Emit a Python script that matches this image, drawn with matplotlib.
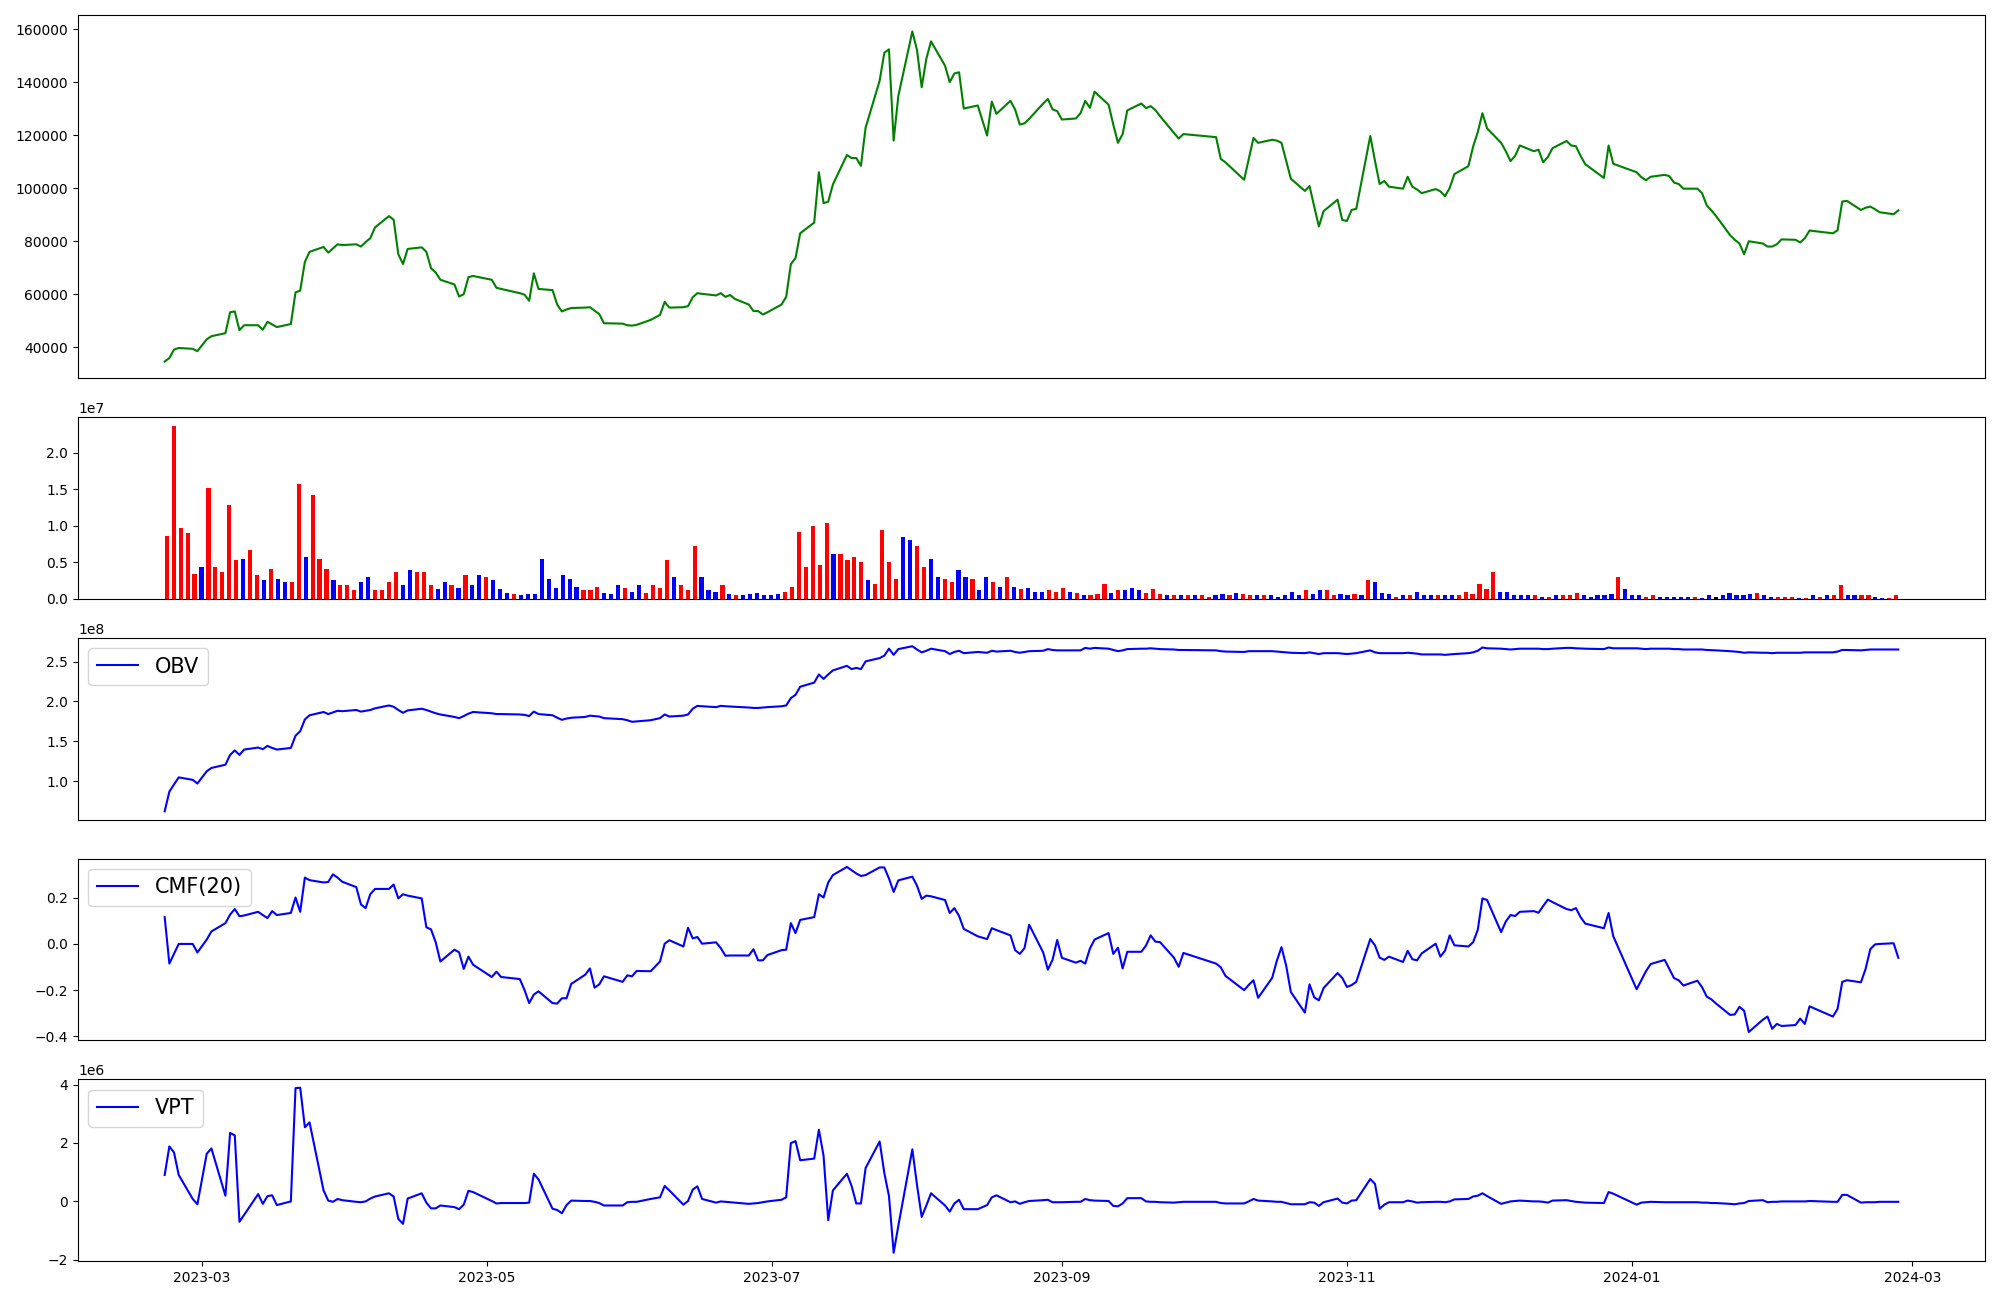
import numpy as np
import pandas as pd
import matplotlib
matplotlib.use("Agg")
import matplotlib.pyplot as plt

# KRX trading days, 2023-02-21 .. 2024-02-27
holidays = ["2023-03-01", "2023-05-01", "2023-05-05", "2023-05-29", "2023-06-06",
            "2023-08-15", "2023-09-28", "2023-09-29", "2023-10-02", "2023-10-03",
            "2023-10-09", "2023-12-25", "2023-12-29", "2024-01-01", "2024-02-09",
            "2024-02-12"]
dates = pd.bdate_range("2023-02-21", "2024-02-27", freq="C", holidays=holidays).to_pydatetime()

close = [
    34600, 35900, 39100, 39700, 39400, 38500, 43000, 44150, 45300, 53200,
    53500, 46450, 48300, 48300, 46600, 49600, 48600, 47600, 48750, 60700,
    61400, 72200, 76000, 77850, 75700, 77300, 78850, 78550, 78850, 78000,
    79700, 81150, 85200, 89500, 88100, 75100, 71400, 77100, 77700, 76000,
    69800, 68200, 65450, 63700, 59150, 60000, 66450, 66900, 65450, 62450,
    62000, 60400, 59850, 57550, 67900, 62000, 61550, 56100, 53500, 54250,
    54800, 54950, 55100, 53800, 52500, 49050, 48900, 48300, 48150, 48450,
    50300, 52200, 57100, 54950, 55100, 55500, 58850, 60400, 60150, 59550,
    60400, 59000, 59700, 58250, 56100, 53650, 53650, 52350, 53200, 56100,
    59000, 71350, 73650, 83000, 87050, 106050, 94400, 94950, 101450, 112550,
    111400, 111400, 108500, 122900, 140600, 151150, 152450, 118000, 134850, 159200,
    152150, 138150, 148950, 155450, 146250, 140050, 143350, 143800, 130100, 131250,
    119900, 132700, 128100, 133000, 129700, 124050, 124500, 126200, 132000, 133700,
    129800, 129100, 125950, 126350, 128400, 133000, 130400, 136450, 131550, 124050,
    117150, 120450, 129400, 132000, 130250, 131000, 129550, 127250, 120900, 118750,
    120450, 119300, 111100, 109800, 103200, 111100, 119000, 117150, 118300, 118000,
    117150, 110400, 103600, 99000, 100850, 93100, 85600, 91350, 95700, 88050,
    87650, 91800, 92250, 119750, 110400, 101600, 102750, 100600, 99850, 104350,
    100600, 99550, 98150, 99700, 98850, 97000, 100150, 105350, 108350, 115700,
    121150, 128350, 122600, 117150, 114000, 110250, 112250, 116150, 114000, 114550,
    109800, 111800, 115150, 117850, 116150, 115850, 112250, 109100, 103900, 116150,
    109250, 106050, 104200, 103050, 104350, 105050, 104600, 102150, 101600, 99850,
    99850, 98150, 93550, 91650, 89500, 82300, 80550, 79150, 75100, 80000,
    79150, 78000, 78000, 78850, 80700, 80550, 79550, 81150, 84050, 83000,
    84150, 95000, 95250, 91800, 92650, 93100, 92100, 90950, 90200, 91650,
]

# volume in units of 1e7
volume = [
    0.858, 2.370, 0.969, 0.900, 0.345, 0.440, 1.515, 0.430, 0.372, 1.283,
    0.525, 0.551, 0.662, 0.319, 0.251, 0.414, 0.277, 0.235, 0.235, 1.573,
    0.567, 1.420, 0.551, 0.404, 0.251, 0.193, 0.182, 0.114, 0.235, 0.293,
    0.124, 0.124, 0.224, 0.361, 0.193, 0.388, 0.372, 0.361, 0.193, 0.140,
    0.235, 0.182, 0.151, 0.330, 0.193, 0.319, 0.293, 0.251, 0.140, 0.082,
    0.072, 0.056, 0.072, 0.072, 0.551, 0.277, 0.151, 0.319, 0.277, 0.166,
    0.114, 0.124, 0.166, 0.082, 0.072, 0.193, 0.151, 0.098, 0.193, 0.082,
    0.193, 0.151, 0.525, 0.293, 0.182, 0.124, 0.730, 0.293, 0.114, 0.098,
    0.182, 0.072, 0.056, 0.056, 0.072, 0.082, 0.056, 0.056, 0.072, 0.098,
    0.166, 0.909, 0.440, 0.993, 0.456, 1.035, 0.620, 0.609, 0.525, 0.567,
    0.509, 0.261, 0.209, 0.936, 0.498, 0.277, 0.841, 0.799, 0.720, 0.440,
    0.541, 0.303, 0.277, 0.224, 0.388, 0.303, 0.277, 0.124, 0.293, 0.224,
    0.166, 0.293, 0.166, 0.140, 0.151, 0.098, 0.098, 0.114, 0.098, 0.151,
    0.098, 0.082, 0.056, 0.056, 0.072, 0.209, 0.082, 0.114, 0.124, 0.151,
    0.114, 0.082, 0.140, 0.072, 0.045, 0.045, 0.056, 0.045, 0.056, 0.045,
    0.030, 0.045, 0.072, 0.045, 0.082, 0.072, 0.056, 0.045, 0.056, 0.045,
    0.030, 0.045, 0.098, 0.056, 0.114, 0.072, 0.114, 0.124, 0.056, 0.072,
    0.056, 0.072, 0.056, 0.261, 0.235, 0.082, 0.072, 0.030, 0.045, 0.056,
    0.098, 0.045, 0.056, 0.045, 0.056, 0.045, 0.056, 0.098, 0.072, 0.209,
    0.140, 0.372, 0.098, 0.098, 0.056, 0.045, 0.045, 0.045, 0.030, 0.030,
    0.045, 0.045, 0.056, 0.082, 0.045, 0.030, 0.045, 0.045, 0.072, 0.303,
    0.140, 0.056, 0.056, 0.030, 0.056, 0.030, 0.030, 0.030, 0.030, 0.030,
    0.030, 0.014, 0.045, 0.030, 0.045, 0.082, 0.056, 0.056, 0.072, 0.082,
    0.045, 0.030, 0.030, 0.030, 0.030, 0.014, 0.014, 0.056, 0.030, 0.045,
    0.045, 0.182, 0.056, 0.045, 0.045, 0.045, 0.030, 0.014, 0.014, 0.045,
]

# r = close above open, b = below, k = unchanged
bar_side = list(
    "rrrrrbrrrr" "rbrrbrbbrr" "brrrbrrrbb" "rrrrbbrrrb" "brbrbbrbbb"
    "rbbbbbbbbb" "rrrbbbrbbr" "rrrbrrrbbb" "rbrbbbbbbr" "rrrrrrbrrr"
    "rbrrrrbbrr" "bbrrbbrbbr" "brbrbbbrrr" "brbrrrbrbb" "brrrbrbrbr"
    "rbbrbrrbrb" "bbbbrbbrrb" "brbrbbbrbr" "bbbrbbrrrr" "rrbbbbbrbr"
    "brrrbbbbbr" "bbbrrbbbbb" "rbbkbbbbbr" "bbrrrbrbrb" "rrbbrrbbrr"
)

# OBV in units of 1e8
obv = [
    0.623, 0.869, 0.960, 1.048, 1.017, 0.971, 1.125, 1.166, 1.207, 1.330,
    1.386, 1.330, 1.397, 1.422, 1.402, 1.443, 1.417, 1.397, 1.417, 1.571,
    1.627, 1.775, 1.827, 1.868, 1.842, 1.862, 1.883, 1.878, 1.893, 1.873,
    1.883, 1.893, 1.914, 1.950, 1.934, 1.893, 1.858, 1.888, 1.909, 1.893,
    1.873, 1.852, 1.837, 1.806, 1.791, 1.817, 1.847, 1.868, 1.852, 1.842,
    1.842, 1.837, 1.832, 1.817, 1.873, 1.842, 1.827, 1.796, 1.770, 1.786,
    1.796, 1.806, 1.822, 1.817, 1.811, 1.791, 1.778, 1.765, 1.745, 1.750,
    1.765, 1.791, 1.837, 1.811, 1.822, 1.837, 1.909, 1.945, 1.940, 1.929,
    1.945, 1.940, 1.937, 1.934, 1.924, 1.919, 1.919, 1.924, 1.929, 1.940,
    1.950, 2.042, 2.083, 2.185, 2.237, 2.339, 2.283, 2.339, 2.390, 2.447,
    2.406, 2.421, 2.406, 2.503, 2.544, 2.575, 2.662, 2.585, 2.657, 2.693,
    2.652, 2.616, 2.636, 2.662, 2.631, 2.595, 2.621, 2.636, 2.606, 2.621,
    2.611, 2.636, 2.626, 2.636, 2.621, 2.611, 2.621, 2.631, 2.636, 2.657,
    2.646, 2.641, 2.641, 2.641, 2.641, 2.672, 2.662, 2.672, 2.662, 2.646,
    2.631, 2.641, 2.657, 2.662, 2.662, 2.667, 2.662, 2.657, 2.652, 2.646,
    2.646, 2.641, 2.631, 2.626, 2.621, 2.631, 2.631, 2.631, 2.631, 2.626,
    2.621, 2.616, 2.611, 2.606, 2.616, 2.606, 2.595, 2.606, 2.606, 2.600,
    2.595, 2.600, 2.606, 2.641, 2.616, 2.606, 2.606, 2.606, 2.606, 2.611,
    2.606, 2.600, 2.590, 2.590, 2.590, 2.585, 2.590, 2.595, 2.606, 2.616,
    2.636, 2.677, 2.667, 2.662, 2.657, 2.652, 2.657, 2.662, 2.662, 2.662,
    2.657, 2.657, 2.662, 2.672, 2.672, 2.667, 2.664, 2.662, 2.657, 2.677,
    2.667, 2.667, 2.662, 2.657, 2.662, 2.662, 2.662, 2.657, 2.657, 2.652,
    2.652, 2.652, 2.646, 2.644, 2.641, 2.631, 2.626, 2.621, 2.611, 2.616,
    2.611, 2.611, 2.606, 2.611, 2.611, 2.611, 2.611, 2.616, 2.616, 2.616,
    2.626, 2.646, 2.646, 2.641, 2.646, 2.652, 2.652, 2.652, 2.652, 2.652,
]

cmf = [
    0.116, -0.085, -0.043, 0.000, 0.000, -0.037, 0.019, 0.054, 0.090, 0.127,
    0.151, 0.120, 0.123, 0.139, 0.125, 0.112, 0.142, 0.125, 0.134, 0.201,
    0.139, 0.287, 0.276, 0.266, 0.268, 0.301, 0.287, 0.269, 0.246, 0.171,
    0.155, 0.215, 0.238, 0.238, 0.257, 0.197, 0.215, 0.209, 0.197, 0.072,
    0.063, 0.007, -0.076, -0.025, -0.036, -0.108, -0.055, -0.090, -0.143, -0.120,
    -0.143, -0.152, -0.199, -0.256, -0.219, -0.205, -0.256, -0.258, -0.235, -0.235,
    -0.173, -0.133, -0.106, -0.189, -0.175, -0.140, -0.164, -0.136, -0.140, -0.117,
    -0.118, -0.076, 0.001, 0.016, -0.011, 0.070, 0.024, 0.030, 0.001, 0.007,
    -0.018, -0.051, -0.050, -0.050, -0.050, -0.023, -0.071, -0.071, -0.048, -0.027,
    -0.025, 0.090, 0.047, 0.104, 0.116, 0.215, 0.201, 0.266, 0.298, 0.333,
    0.319, 0.305, 0.294, 0.298, 0.331, 0.331, 0.283, 0.225, 0.275, 0.291,
    0.252, 0.195, 0.209, 0.206, 0.190, 0.134, 0.155, 0.121, 0.065, 0.033,
    0.021, 0.068, 0.060, 0.037, -0.027, -0.043, -0.018, 0.083, -0.037, -0.111,
    -0.069, 0.017, -0.060, -0.081, -0.073, -0.085, -0.020, 0.019, 0.047, -0.043,
    -0.016, -0.106, -0.034, -0.034, -0.007, 0.037, 0.010, 0.008, -0.060, -0.099,
    -0.039, -0.085, -0.101, -0.138, -0.200, -0.177, -0.157, -0.233, -0.147, -0.073,
    -0.014, -0.094, -0.208, -0.297, -0.175, -0.231, -0.244, -0.191, -0.126, -0.147,
    -0.186, -0.178, -0.164, 0.021, -0.006, -0.059, -0.069, -0.055, -0.078, -0.030,
    -0.066, -0.071, -0.041, 0.001, -0.055, -0.029, 0.037, -0.006, -0.011, 0.007,
    0.061, 0.197, 0.190, 0.051, 0.097, 0.125, 0.121, 0.139, 0.142, 0.135,
    0.164, 0.192, 0.181, 0.151, 0.146, 0.155, 0.116, 0.088, 0.068, 0.134,
    0.033, -0.196, -0.157, -0.118, -0.087, -0.069, -0.108, -0.148, -0.157, -0.180,
    -0.159, -0.187, -0.228, -0.240, -0.258, -0.307, -0.305, -0.272, -0.289, -0.381,
    -0.328, -0.314, -0.367, -0.346, -0.355, -0.351, -0.323, -0.346, -0.270, -0.314,
    -0.281, -0.164, -0.157, -0.166, -0.108, -0.023, -0.002, 0.000, 0.003, -0.060,
]

# VPT in units of 1e6
vpt = [
    0.904, 1.883, 1.673, 0.904, 0.080, -0.102, 1.631, 1.813, 0.192, 2.345,
    2.261, -0.703, -0.466, 0.247, -0.088, 0.178, 0.205, -0.130, -0.004, 3.882,
    3.896, 2.540, 2.708, 0.373, 0.024, -0.018, 0.080, 0.038, -0.018, -0.032,
    -0.004, 0.094, 0.164, 0.275, 0.164, -0.605, -0.773, 0.094, 0.275, -0.046,
    -0.242, -0.242, -0.144, -0.200, -0.270, -0.116, 0.359, 0.317, 0.010, -0.074,
    -0.060, -0.060, -0.060, -0.046, 0.946, 0.750, -0.256, -0.298, -0.410, -0.130,
    0.024, 0.010, 0.010, -0.018, -0.060, -0.144, -0.144, -0.032, -0.018, -0.018,
    0.080, 0.136, 0.527, 0.373, -0.116, 0.010, 0.401, 0.513, 0.080, -0.046,
    -0.004, -0.018, -0.032, -0.046, -0.088, -0.074, -0.060, -0.032, -0.004, 0.052,
    0.136, 1.995, 2.065, 1.408, 1.464, 2.456, 1.562, -0.647, 0.373, 0.946,
    0.527, -0.074, -0.074, 1.142, 2.051, 0.974, 0.178, -1.765, -0.843, 1.782,
    0.555, -0.535, -0.144, 0.275, -0.144, -0.354, -0.074, 0.052, -0.270, -0.270,
    -0.130, 0.136, 0.205, -0.032, -0.004, -0.088, -0.032, 0.010, 0.038, 0.052,
    -0.032, -0.032, -0.032, -0.018, -0.018, 0.080, 0.038, 0.024, 0.010, -0.158,
    -0.172, -0.074, 0.108, 0.108, -0.004, -0.018, -0.018, -0.032, -0.046, -0.032,
    -0.018, -0.018, -0.060, -0.074, -0.074, -0.004, 0.080, 0.024, -0.004, -0.018,
    -0.018, -0.060, -0.102, -0.102, -0.032, -0.046, -0.158, -0.032, 0.094, -0.046,
    -0.074, 0.024, 0.038, 0.764, 0.597, -0.256, -0.116, -0.032, -0.032, 0.024,
    -0.004, -0.046, -0.032, -0.018, -0.018, -0.032, -0.004, 0.066, 0.080, 0.164,
    0.192, 0.275, 0.178, -0.088, -0.046, -0.004, 0.010, 0.024, -0.004, -0.004,
    -0.018, -0.046, 0.024, 0.038, 0.010, -0.018, -0.032, -0.046, -0.060, 0.317,
    0.261, -0.116, -0.046, -0.032, -0.018, -0.032, -0.032, -0.032, -0.032, -0.032,
    -0.032, -0.046, -0.046, -0.060, -0.060, -0.088, -0.102, -0.074, -0.060, 0.010,
    0.038, -0.032, -0.018, -0.018, -0.004, -0.004, -0.004, -0.004, 0.010, -0.018,
    -0.018, 0.220, 0.220, -0.046, -0.032, -0.032, -0.032, -0.018, -0.018, -0.018,
]

side_colors = {"r": "red", "b": "blue", "k": "black"}
bar_colors = [side_colors[s] for s in bar_side]

fig = plt.figure(figsize=(20, 13), dpi=100)
gs = fig.add_gridspec(5, 1, height_ratios=[2, 1, 1, 1, 1],
                      left=0.039, right=0.9925, top=0.9885, bottom=0.030, hspace=0.18)

ax1 = fig.add_subplot(gs[0])
ax1.plot(dates, close, color="green")
ax1.set_xticks([])

ax2 = fig.add_subplot(gs[1])
ax2.bar(np.arange(len(volume)), np.array(volume) * 1e7, color=bar_colors, width=0.6)
ax2.set_xticks([])

ax3 = fig.add_subplot(gs[2])
ax3.plot(dates, np.array(obv) * 1e8, color="blue", label="OBV")
ax3.legend(loc="upper left", fontsize=15)
ax3.set_xticks([])

ax4 = fig.add_subplot(gs[3])
ax4.plot(dates, cmf, color="blue", label="CMF(20)")
ax4.legend(loc="upper left", fontsize=15)
ax4.set_xticks([])

ax5 = fig.add_subplot(gs[4])
ax5.plot(dates, np.array(vpt) * 1e6, color="blue", label="VPT")
ax5.legend(loc="upper left", fontsize=15)

fig.savefig("out.png")
